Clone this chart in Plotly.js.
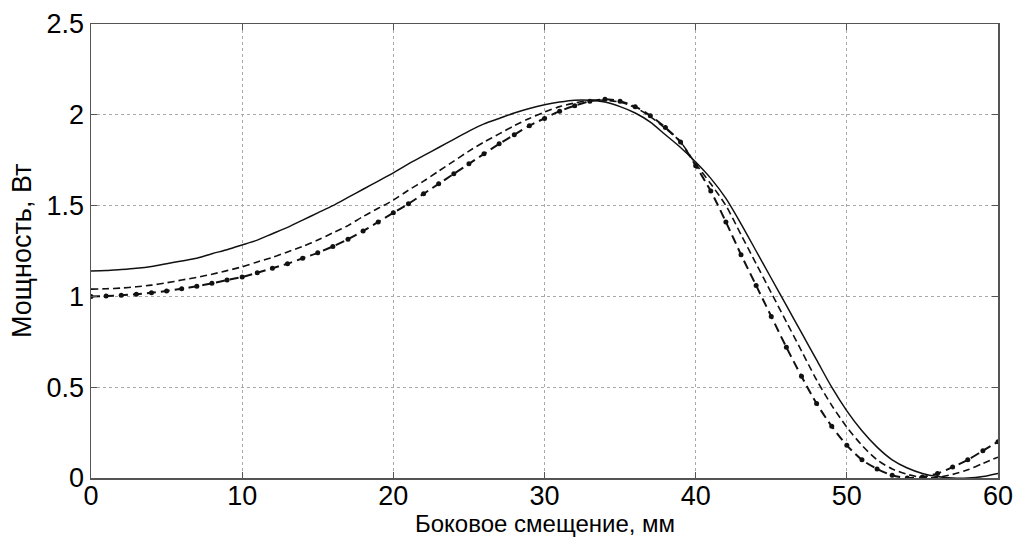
<!DOCTYPE html>
<html>
<head>
<meta charset="utf-8">
<script src="https://cdn.plot.ly/plotly-3.0.1.min.js"></script>
<style>html,body{margin:0;padding:0;background:#fff;}#chart{width:1014px;height:538px;}</style>
</head>
<body>
<div id="chart"></div>
<script>
const xValues = [0,1,2,3,4,5,6,7,8,9,10,11,12,13,14,15,16,17,18,19,20,21,22,23,24,25,26,27,28,29,30,31,32,33,34,35,36,37,38,39,40,41,42,43,44,45,46,47,48,49,50,51,52,53,54,55,56,57,58,59,60];

const solidSeries = [1.14,1.142,1.148,1.155,1.165,1.18,1.195,1.21,1.235,1.257,1.283,1.31,1.345,1.38,1.42,1.46,1.50,1.545,1.59,1.635,1.68,1.73,1.775,1.82,1.865,1.91,1.95,1.98,2.01,2.035,2.055,2.07,2.08,2.08,2.07,2.045,2.01,1.96,1.89,1.82,1.74,1.65,1.54,1.40,1.25,1.10,0.95,0.80,0.65,0.50,0.37,0.26,0.17,0.10,0.055,0.025,0.008,0.0,0.0,0.008,0.025];

const dashedSeries = [1.04,1.042,1.046,1.053,1.062,1.075,1.09,1.105,1.122,1.142,1.163,1.19,1.215,1.245,1.275,1.31,1.35,1.39,1.44,1.485,1.53,1.585,1.635,1.69,1.745,1.80,1.85,1.895,1.94,1.98,2.015,2.045,2.065,2.08,2.08,2.07,2.04,1.99,1.925,1.85,1.73,1.62,1.50,1.34,1.18,1.02,0.86,0.70,0.54,0.40,0.28,0.18,0.10,0.05,0.02,0.003,0.003,0.02,0.045,0.08,0.115];

const markedSeries = [1.0,1.002,1.006,1.012,1.02,1.03,1.042,1.056,1.072,1.09,1.107,1.13,1.155,1.18,1.21,1.24,1.275,1.315,1.36,1.41,1.46,1.51,1.565,1.62,1.675,1.73,1.785,1.84,1.89,1.94,1.98,2.02,2.05,2.075,2.085,2.075,2.045,1.995,1.93,1.85,1.72,1.58,1.41,1.23,1.06,0.89,0.72,0.56,0.41,0.285,0.18,0.10,0.05,0.015,0.0,0.005,0.025,0.06,0.10,0.15,0.2];

const xTicks = [0,10,20,30,40,50,60];
const yTicks = [0,0.5,1,1.5,2,2.5];
const yTickText = ['0','0.5','1','1.5','2','2.5'];
const xTitle = 'Боковое смещение, мм';
const yTitle = 'Мощность, Вт';

const fontFam = '"Liberation Sans", Arial, sans-serif';

const traces = [
  {x: xValues, y: solidSeries, mode: 'lines', line: {color: '#111', width: 1.5, shape: 'spline', smoothing: 0.8}, hoverinfo: 'skip'},
  {x: xValues, y: dashedSeries, mode: 'lines', line: {color: '#111', width: 1.6, dash: '7px,4px', shape: 'spline', smoothing: 0.8}, hoverinfo: 'skip'},
  {x: xValues, y: markedSeries, mode: 'lines+markers', line: {color: '#111', width: 2, dash: '9px,5px', shape: 'spline', smoothing: 0.8}, marker: {size: 5, color: '#111', symbol: 'circle'}, hoverinfo: 'skip'}
];

const axisCommon = {
  showline: true, linecolor: '#555', linewidth: 1.5, mirror: 'ticks',
  ticks: 'inside', ticklen: 6, tickcolor: '#555', tickwidth: 1,
  showgrid: true, gridcolor: '#aaa', griddash: 'dot', gridwidth: 1,
  zeroline: false, ticklabeloverflow: 'allow',
  tickfont: {family: fontFam, size: 27, color: '#000'}
};

const layout = {
  width: 1014, height: 538,
  margin: {l: 91, r: 16, t: 24, b: 60},
  paper_bgcolor: '#fff', plot_bgcolor: '#fff',
  showlegend: false,
  font: {family: fontFam, color: '#000'},
  xaxis: Object.assign({}, axisCommon, {
    range: [0, 60], tickvals: xTicks, ticktext: xTicks.map(String), ticklabelstandoff: -7
  }),
  yaxis: Object.assign({}, axisCommon, {
    range: [0, 2.5], tickvals: yTicks, ticktext: yTickText
  }),
  annotations: [
    {text: xTitle, xref: 'paper', yref: 'paper', x: 0.5, y: 0, xanchor: 'center', yanchor: 'top', yshift: -30, showarrow: false, font: {family: fontFam, size: 24, color: '#000'}},
    {text: yTitle, xref: 'paper', yref: 'paper', x: 0, y: 0.5, xanchor: 'center', yanchor: 'middle', xshift: -69, textangle: -90, showarrow: false, font: {family: fontFam, size: 27, color: '#000'}}
  ]
};

Plotly.newPlot('chart', traces, layout, {staticPlot: true, displayModeBar: false});
</script>
</body>
</html>
